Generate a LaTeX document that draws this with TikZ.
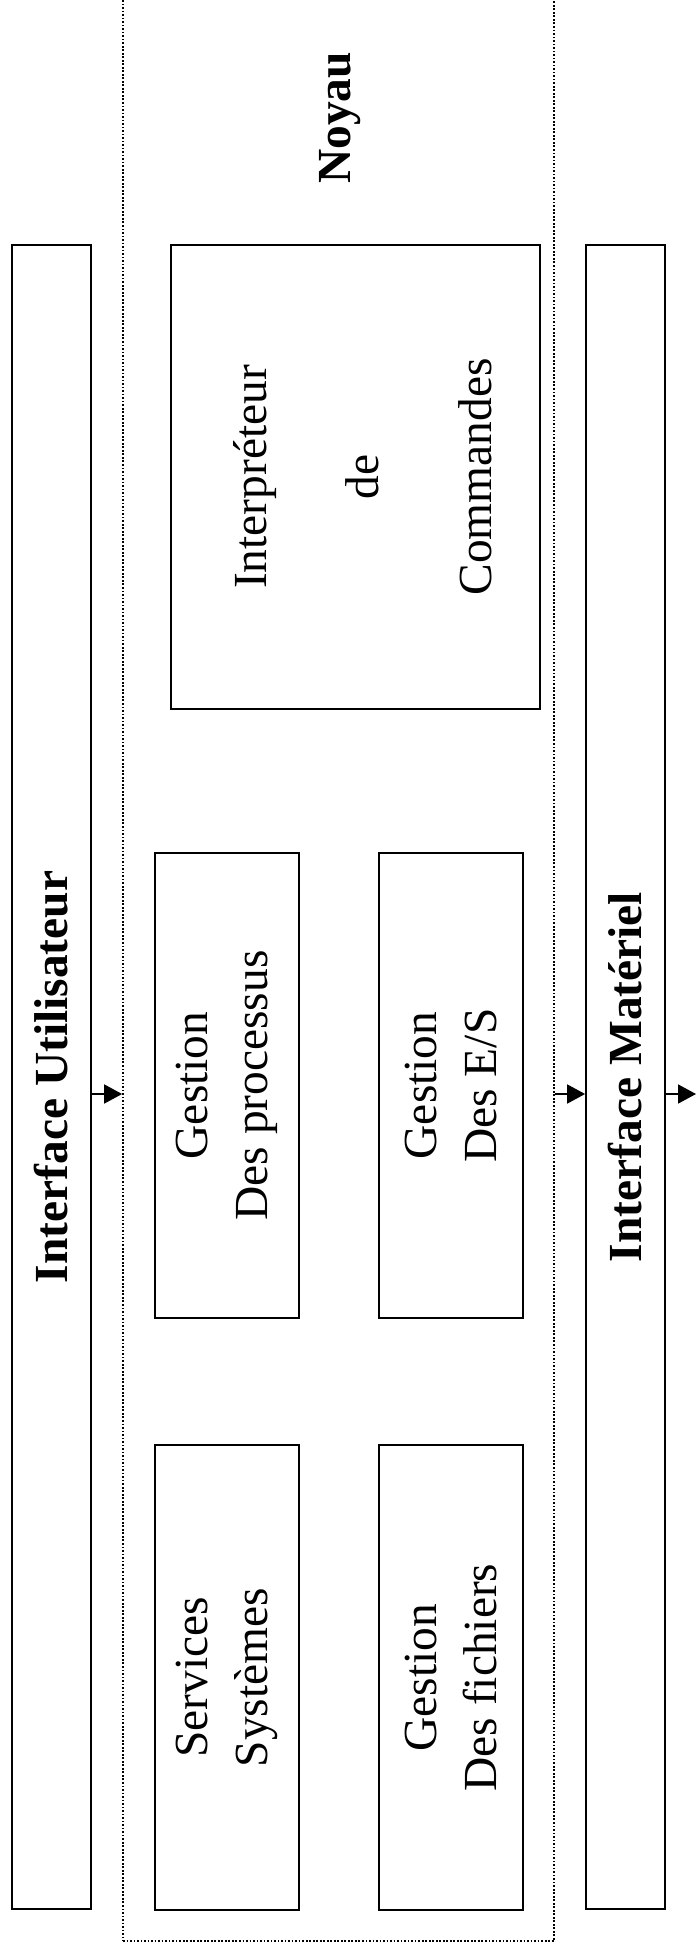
\documentclass[tikz,border=0pt]{standalone}
\usepackage{fontspec}
\setmainfont{Liberation Serif}
\usetikzlibrary{arrows.meta}

\begin{document}
\begin{tikzpicture}[
	bloc/.style={draw, line width=1pt, inner sep=0pt},
	texte/.style={rotate=90, align=center, font=\fontsize{27}{34}\selectfont},
	titre/.style={rotate=90, font=\fontsize{27}{34}\selectfont\bfseries},
	fleche/.style={-{Triangle[length=0.36cm,width=0.38cm]}, line width=1pt}
	]
	% taille de la page
	\useasboundingbox (0,0) rectangle (13.92,-39.06);
	
	% les deux interfaces
	\node[bloc, minimum width=1.58cm, minimum height=33.28cm] (util) at (1.03,-21.54) {};
	\node[titre] at (util) {Interface Utilisateur};
	\node[bloc, minimum width=1.58cm, minimum height=33.28cm] (mat) at (12.51,-21.54) {};
	\node[titre] at (mat) {Interface Matériel};
	
	% le noyau et ses modules
	\node[bloc, densely dotted, minimum width=8.62cm, minimum height=39.82cm] (noyau) at (6.77,-18.91) {};
	\node[titre] at (6.80,-2.36) {Noyau};
	
	\node[bloc, minimum width=7.38cm, minimum height=9.28cm] (interp) at (7.11,-9.54) {};
	\node[texte, font=\fontsize{27}{64}\selectfont] at ([xshift=0.14cm]interp.center) {Interpréteur\\de\\Commandes};
	
	\node[bloc, minimum width=2.88cm, minimum height=9.30cm] (proc) at (4.54,-21.71) {};
	\node[texte] at (proc) {Gestion\\Des processus};
	\node[bloc, minimum width=2.88cm, minimum height=9.30cm] (es) at (9.02,-21.71) {};
	\node[texte] at (es) {Gestion\\Des E/S};
	
	\node[bloc, minimum width=2.88cm, minimum height=9.30cm] (serv) at (4.54,-33.55) {};
	\node[texte] at (serv) {Services\\Systèmes};
	\node[bloc, minimum width=2.88cm, minimum height=9.30cm] (fich) at (9.02,-33.55) {};
	\node[texte] at (fich) {Gestion\\Des fichiers};
	
	% les fleches
	\coordinate (niv) at (0,-21.88);
	\coordinate (sortie) at (13.92,-21.88);
	\draw[fleche] (util.east |- niv) -- (noyau.west |- niv);
	\draw[fleche] (noyau.east |- niv) -- (mat.west |- niv);
	\draw[fleche] (mat.east |- niv) -- (sortie);
\end{tikzpicture}
\end{document}
